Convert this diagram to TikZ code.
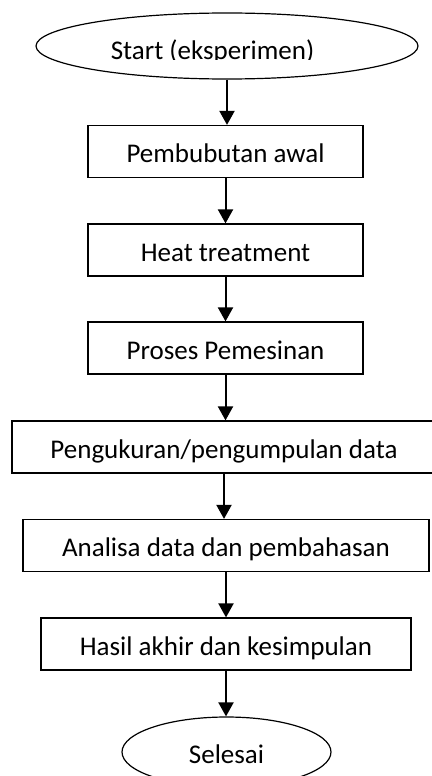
\documentclass[tikz,border=0pt]{standalone}
\usepackage{fontspec}
\setmainfont{Carlito}
\usetikzlibrary{shapes.geometric,arrows.meta}

\begin{document}
\begin{tikzpicture}[
    x=1pt, y=-1pt,
    every node/.style={font=\fontsize{27}{31}\selectfont, text height=22pt, text depth=0pt},
    proses/.style={rectangle, draw, line width=1.2pt, minimum height=52pt, inner sep=0pt},
    terminal/.style={ellipse, draw, line width=1.2pt, inner sep=0pt},
    panah/.style={-{Triangle[width=15pt, length=14pt]}, line width=2pt}
]
    \useasboundingbox (0, 0) rectangle (431, 776);

    \node[terminal, minimum width=382pt, minimum height=66pt] (mulai) at (227, 46) {};
    \begin{scope}
        \clip (0, 0) rectangle (431, 60);
        \node (mulaiteks) at (212.5, 48.5) {Start (eksperimen)};
    \end{scope}

    \node[proses, minimum width=275pt] (bubut) at (225.5, 151.5) {Pembubutan awal};
    \node[proses, minimum width=275pt] (heat) at (225.5, 250) {Heat treatment};
    \node[proses, minimum width=275pt] (mesin) at (225.5, 348) {Proses Pemesinan};
    \node[proses, minimum width=424pt] (ukur) at (224, 447) {Pengukuran/pengumpulan data};
    \node[proses, minimum width=406pt] (analisa) at (226, 545.5) {Analisa data dan pembahasan};
    \node[proses, minimum width=370pt] (hasil) at (226, 644) {Hasil akhir dan kesimpulan};

    \node[terminal, minimum width=209pt, minimum height=70pt] (selesai) at (226.5, 752) {Selesai};

    \draw[panah] (mulai.south) -- (mulai.south |- bubut.north);
    \draw[panah] (bubut.south) -- (bubut.south |- heat.north);
    \draw[panah] (heat.south) -- (heat.south |- mesin.north);
    \draw[panah] (mesin.south) -- (mesin.south |- ukur.north);
    \draw[panah] (ukur.south) -- (ukur.south |- analisa.north);
    \draw[panah] (analisa.south) -- (analisa.south |- hasil.north);
    \draw[panah] (hasil.south) -- (hasil.south |- selesai.north);

\end{tikzpicture}
\end{document}
